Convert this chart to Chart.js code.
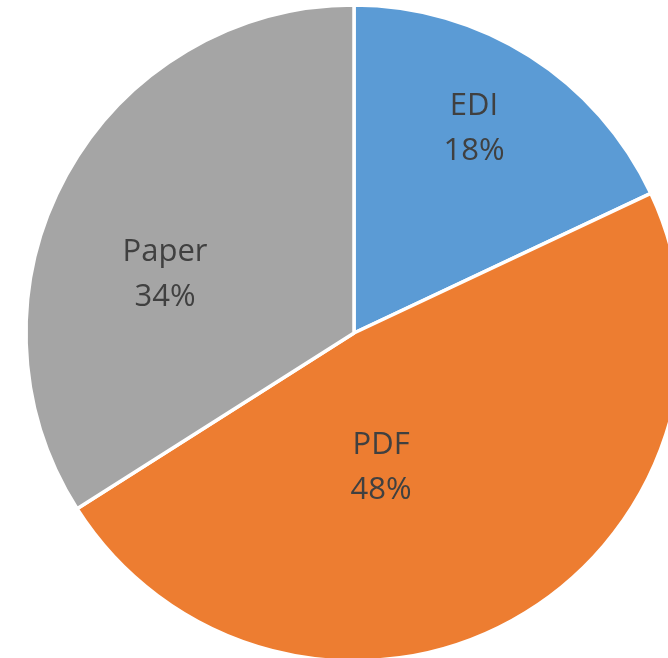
<!DOCTYPE html>
<html>
<head>
<meta charset="utf-8">
<script src="https://cdn.jsdelivr.net/npm/chart.js@4/dist/chart.umd.min.js"></script>
<style>
  html, body { margin: 0; padding: 0; background: #fff; overflow: hidden; }
  #wrap { width: 708px; height: 666px; }
</style>
</head>
<body>
<div id="wrap"><canvas id="pie" width="708" height="666"></canvas></div>
<script>
const categories = ['EDI', 'PDF', 'Paper'];
const shares = [18, 48, 34];
const sliceColors = ['#5B9BD5', '#ED7D31', '#A5A5A5'];

// where each label sits: angle (deg, from 3 o'clock, clockwise) and fraction of radius
const labelSpots = [
    { angle: -59.9, r: 0.734 },
    { angle: 78.4, r: 0.413 },
    { angle: 197.9, r: 0.609 }
];

// draw "name / pct%" inside the slices
const sliceLabels = {
    id: 'sliceLabels',
    afterDatasetsDraw(chart) {
        const ctx = chart.ctx;
        const arcs = chart.getDatasetMeta(0).data;
        ctx.save();
        ctx.fillStyle = '#404040';
        ctx.font = '31px "Open Sans", sans-serif';
        ctx.textAlign = 'center';
        ctx.textBaseline = 'alphabetic';
        arcs.forEach((arc, i) => {
            const spot = labelSpots[i];
            const a = spot.angle * Math.PI / 180;
            const x = arc.x + Math.cos(a) * 326 * spot.r;
            const y = arc.y + Math.sin(a) * 326 * spot.r;
            ctx.fillText(categories[i], x, y - 11);
            ctx.fillText(shares[i] + '%', x, y + 34);
        });
        ctx.restore();
    }
};

const ctx = document.getElementById('pie').getContext('2d');
const myChart = new Chart(ctx, {
    type: 'pie',
    data: {
        labels: categories,
        datasets: [{
            data: shares,
            backgroundColor: sliceColors,
            borderColor: '#ffffff',
            borderWidth: 3.5
        }]
    },
    options: {
        responsive: false,
        animation: false,
        radius: 328,
        layout: { padding: 0 },
        plugins: {
            legend: { display: false },
            tooltip: { enabled: false }
        }
    },
    plugins: [sliceLabels]
});
</script>
</body>
</html>
